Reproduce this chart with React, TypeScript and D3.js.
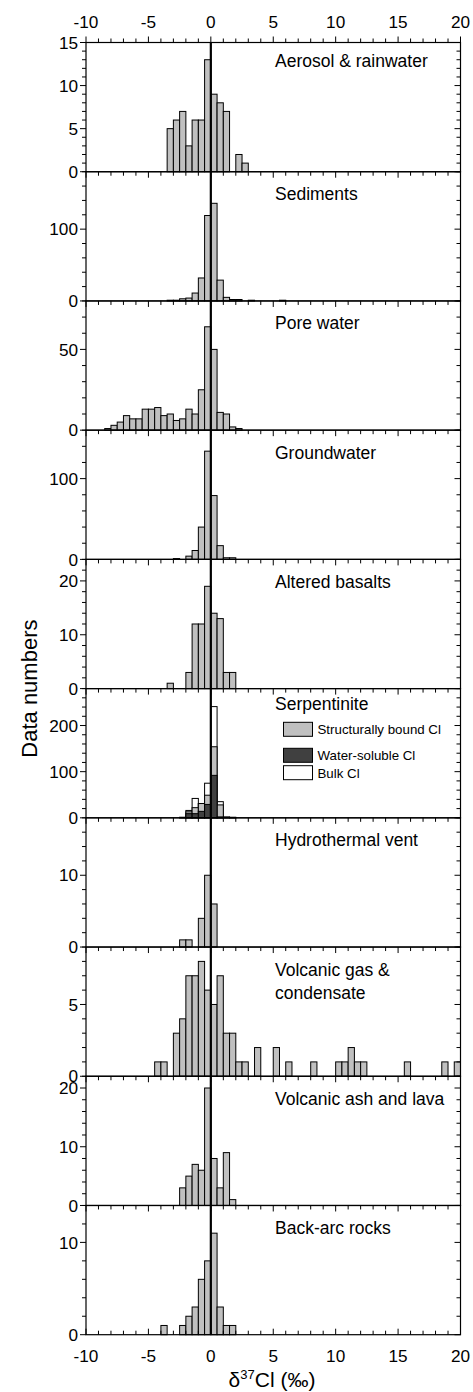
import React from 'react';
import * as d3 from 'd3';

// ---------- data ----------
const X_TICKS = [-10, -5, 0, 5, 10, 15, 20];
const BIN = 0.5;

const aerosolBins = [-3.5, -3, -2.5, -2, -1.5, -1, -0.5, 0, 0.5, 1, 2, 2.5];
const aerosolCounts = [5, 6, 7, 3, 6, 6, 13, 9, 8, 7, 2, 1];

const sedimentBins = [-3.5, -3, -2.5, -2, -1.5, -1, -0.5, 0, 0.5, 1, 1.5, 2, 3, 5.5];
const sedimentCounts = [1, 1, 3, 4, 11, 32, 119, 136, 29, 5, 2, 2, 1, 1];

const poreBins = [-8.5, -8, -7.5, -7, -6.5, -6, -5.5, -5, -4.5, -4, -3.5, -3, -2.5, -2, -1.5, -1, -0.5, 0, 0.5, 1, 1.5, 2];
const poreCounts = [1, 3, 5, 9, 7, 7, 13, 13, 14, 9, 10, 6, 7, 13, 10, 25, 64, 50, 11, 10, 2, 1];

const groundBins = [-3, -2, -1.5, -1, -0.5, 0, 0.5, 1, 1.5];
const groundCounts = [1, 4, 11, 40, 134, 79, 17, 2, 2];

const basaltBins = [-3.5, -2, -1.5, -1, -0.5, 0, 0.5, 1, 1.5];
const basaltCounts = [1, 3, 12, 12, 19, 14, 13, 3, 3];

const serpBins = [-2.5, -2, -1.5, -1, -0.5, 0, 0.5, 1, 1.5];
const serpBulk = [1, 16, 42, 31, 75, 241, 35, 2, 1];
const serpStructural = [1, 13, 22, 31, 49, 154, 28, 1, 1];
const serpWater = [0, 9, 9, 14, 29, 92, 2, 0, 0];

const ventBins = [-2.5, -2, -1, -0.5, 0];
const ventCounts = [1, 1, 4, 10, 6];

const gasBins = [-4.5, -4, -3, -2.5, -2, -1.5, -1, -0.5, 0, 0.5, 1, 1.5, 2, 2.5, 3.5, 5, 6, 8, 10, 10.5, 11, 11.5, 12, 15.5, 18.5, 19.5];
const gasCounts = [1, 1, 3, 4, 7, 7, 8, 6, 5, 7, 3, 3, 1, 1, 2, 2, 1, 1, 1, 1, 2, 1, 1, 1, 1, 1];

const ashBins = [-2.5, -2, -1.5, -1, -0.5, 0, 0.5, 1, 1.5];
const ashCounts = [3, 5, 7, 6, 20, 8, 3, 9, 1];

const backArcBins = [-4, -2.5, -2, -1.5, -1, -0.5, 0, 0.5, 1, 1.5];
const backArcCounts = [1, 1, 2, 3, 6, 8, 11, 3, 1, 1];

const legendLabels = ['Structurally bound Cl', 'Water-soluble Cl', 'Bulk Cl'];

type Series = { bins: number[]; counts: number[]; fill: string };
type Panel = { title: string[]; series: Series[]; yMax: number; minor: number; major: number };

const GRAY = '#c0c0c0';
const DARK = '#404040';

const panels: Panel[] = [
  { title: ['Aerosol & rainwater'], series: [{ bins: aerosolBins, counts: aerosolCounts, fill: GRAY }], yMax: 15, minor: 1, major: 5 },
  { title: ['Sediments'], series: [{ bins: sedimentBins, counts: sedimentCounts, fill: GRAY }], yMax: 180, minor: 20, major: 100 },
  { title: ['Pore water'], series: [{ bins: poreBins, counts: poreCounts, fill: GRAY }], yMax: 80, minor: 10, major: 50 },
  { title: ['Groundwater'], series: [{ bins: groundBins, counts: groundCounts, fill: GRAY }], yMax: 160, minor: 20, major: 100 },
  { title: ['Altered basalts'], series: [{ bins: basaltBins, counts: basaltCounts, fill: GRAY }], yMax: 24, minor: 2, major: 10 },
  {
    title: ['Serpentinite'],
    series: [
      { bins: serpBins, counts: serpBulk, fill: '#ffffff' },
      { bins: serpBins, counts: serpStructural, fill: GRAY },
      { bins: serpBins, counts: serpWater, fill: DARK },
    ],
    yMax: 280, minor: 20, major: 100,
  },
  { title: ['Hydrothermal vent'], series: [{ bins: ventBins, counts: ventCounts, fill: GRAY }], yMax: 18, minor: 2, major: 10 },
  { title: ['Volcanic gas &', 'condensate'], series: [{ bins: gasBins, counts: gasCounts, fill: GRAY }], yMax: 9, minor: 1, major: 5 },
  { title: ['Volcanic ash and lava'], series: [{ bins: ashBins, counts: ashCounts, fill: GRAY }], yMax: 22, minor: 2, major: 10 },
  { title: ['Back-arc rocks'], series: [{ bins: backArcBins, counts: backArcCounts, fill: GRAY }], yMax: 14, minor: 2, major: 10 },
];

// ---------- layout ----------
const W = 473;
const H = 1392;
const LEFT = 86;
const RIGHT = 460.5;
const TOP = 42.5;
const BOTTOM = 1334.7;
const PH = (BOTTOM - TOP) / panels.length;
const FONT = '"Liberation Sans", Arial, Helvetica, sans-serif';
const FS = 17.2;

const x = d3.scaleLinear().domain([-10, 20]).range([LEFT, RIGHT]);
const xMinor = d3.range(-10, 20.001, 1);

export default function App() {
  return (
    <svg width={W} height={H} style={{ position: 'absolute', left: 0, top: 0, background: '#fff' }} fontFamily={FONT}>
      <rect x={0} y={0} width={W} height={H} fill="#fff" />
      {panels.map((p, i) => {
        const top = TOP + i * PH;
        const bot = top + PH;
        const y = d3.scaleLinear().domain([0, p.yMax]).range([bot, top]);
        const yTicks = d3.range(0, p.yMax + 1e-6, p.minor);
        const isMajor = (v: number) => Math.abs(v / p.major - Math.round(v / p.major)) < 1e-6;
        return (
          <g key={i}>
            {p.series.map((s, si) => (
              <g key={si}>
                {s.bins.map((b, bi) => {
                  const c = s.counts[bi];
                  if (!c) return null;
                  return (
                    <rect
                      key={bi}
                      x={x(b)}
                      y={y(c)}
                      width={x(b + BIN) - x(b)}
                      height={y(0) - y(c)}
                      fill={s.fill}
                      stroke="#000"
                      strokeWidth={1}
                    />
                  );
                })}
              </g>
            ))}
            {/* frame */}
            <rect x={LEFT} y={top} width={RIGHT - LEFT} height={PH} fill="none" stroke="#000" strokeWidth={1.2} />
            {/* left ticks */}
            {yTicks.map((v, ti) => (
              <line key={'yl' + ti} x1={LEFT} x2={LEFT - (isMajor(v) ? 6 : 4)} y1={y(v)} y2={y(v)} stroke="#000" strokeWidth={1} />
            ))}
            {/* right ticks */}
            {yTicks.map((v, ti) => (
              <line key={'yr' + ti} x1={RIGHT} x2={RIGHT - (isMajor(v) ? 6 : 4)} y1={y(v)} y2={y(v)} stroke="#000" strokeWidth={1} />
            ))}
            {yTicks.filter(isMajor).map((v, ti) => (
              <text key={'yt' + ti} x={LEFT - 8} y={y(v)} dy="0.36em" textAnchor="end" fontSize={FS}>
                {v}
              </text>
            ))}
            {/* top ticks of panel */}
            {xMinor.map((v, ti) => {
              const maj = Math.abs(v % 5) < 1e-6;
              const len = maj ? 6 : 4;
              return i === 0 ? (
                <line key={'xt' + ti} x1={x(v)} x2={x(v)} y1={top} y2={top - len} stroke="#000" strokeWidth={1} />
              ) : (
                <line key={'xt' + ti} x1={x(v)} x2={x(v)} y1={top} y2={top + len} stroke="#000" strokeWidth={1} />
              );
            })}
            {i === panels.length - 1 &&
              xMinor.map((v, ti) => {
                const maj = Math.abs(v % 5) < 1e-6;
                const len = maj ? 6 : 4;
                return <line key={'xb' + ti} x1={x(v)} x2={x(v)} y1={bot} y2={bot - len} stroke="#000" strokeWidth={1} />;
              })}
            {/* title */}
            {p.title.map((t, ti) => (
              <text key={'t' + ti} x={275} y={top + (i === 0 ? 24.5 : i === 5 ? 21.5 : 28.5) + ti * 23} fontSize={17.5}>
                {t}
              </text>
            ))}
            {/* legend for serpentinite */}
            {i === 5 &&
              legendLabels.map((l, li) => {
                const ly = [722.3, 748.3, 765.7][li];
                const fill = [GRAY, DARK, '#ffffff'][li];
                return (
                  <g key={'lg' + li}>
                    <rect x={283.5} y={ly} width={29} height={14} fill={fill} stroke="#000" strokeWidth={1} />
                    <text x={317.5} y={ly + 12} fontSize={13.3}>
                      {l}
                    </text>
                  </g>
                );
              })}
          </g>
        );
      })}
      {/* zero line */}
      <line x1={x(0)} x2={x(0)} y1={TOP} y2={BOTTOM} stroke="#000" strokeWidth={2.2} />
      {/* top axis labels */}
      {X_TICKS.map((v) => (
        <text key={'tx' + v} x={x(v)} y={28} textAnchor="middle" fontSize={FS}>
          {v}
        </text>
      ))}
      {/* bottom axis labels */}
      {X_TICKS.map((v) => (
        <text key={'bx' + v} x={x(v)} y={1362} textAnchor="middle" fontSize={FS}>
          {v}
        </text>
      ))}
      <text x={272} y={1387} textAnchor="middle" fontSize={21}>
        δ<tspan dy={-8} fontSize={13}>37</tspan>
        <tspan dy={8}>Cl (‰)</tspan>
      </text>
      <text transform={`translate(37, ${(TOP + BOTTOM) / 2}) rotate(-90)`} textAnchor="middle" fontSize={22}>
        Data numbers
      </text>
    </svg>
  );
}
